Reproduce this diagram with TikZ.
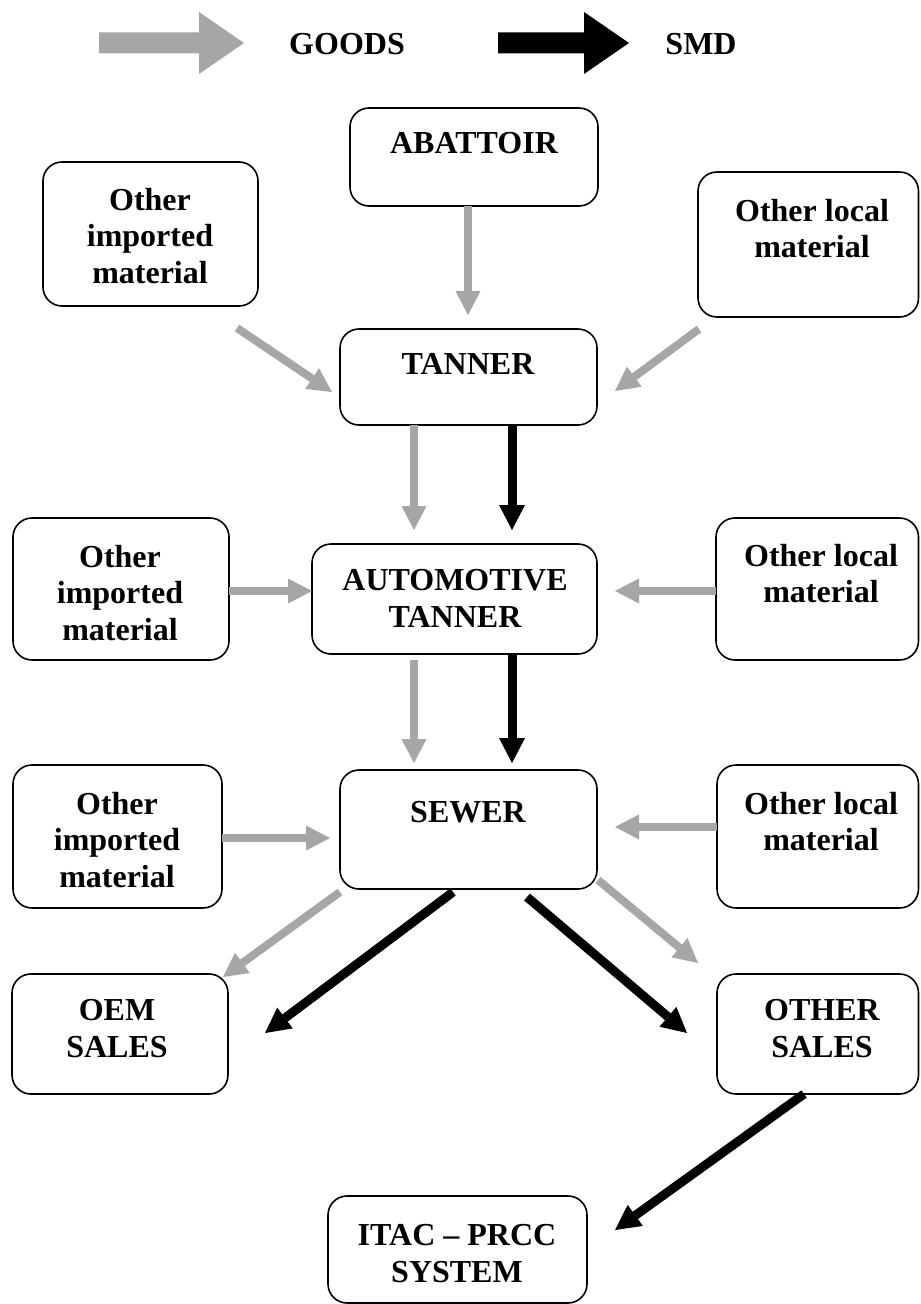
\documentclass[tikz,border=0pt]{standalone}
\usepackage{fontspec}
\setmainfont{Liberation Serif}
\usetikzlibrary{arrows.meta,calc}
\definecolor{goodsgray}{HTML}{A6A6A6}
\begin{document}
\begin{tikzpicture}[x=0.5pt,y=-0.5pt,
  box/.style={draw,line width=0.8pt,rounded corners=9.5pt,inner sep=0pt,outer sep=0pt},
  txt/.style={align=center,font=\fontsize{16}{18.3}\selectfont\bfseries,inner sep=0pt},
  goods/.style={draw=goodsgray,line width=4pt,-{Triangle[length=12pt,width=12.5pt,line width=0pt]}},
  smd/.style={draw=black,line width=4.5pt,-{Triangle[length=12.5pt,width=13pt,line width=0pt]}}]
\fill[white] (0,0) rectangle (920,1304);
\useasboundingbox (0,0) rectangle (920,1304);
\newcommand\bx[5]{\node[box,minimum width=#4*0.5pt,minimum height=#5*0.5pt] (#1) at (#2,#3) {};}
% legend
\fill[goodsgray] (99,32.5) -- (199,32.5) -- (199,12) -- (244,43) -- (199,74) -- (199,53.5) -- (99,53.5) -- cycle;
\node[txt] (lgoods) at (347,44) {GOODS};
\fill[black] (498,32.5) -- (584,32.5) -- (584,12) -- (629,43) -- (584,74) -- (584,53.5) -- (498,53.5) -- cycle;
\node[txt] (lsmd) at (701,44) {SMD};
% boxes
\bx{aba}{474}{157}{248}{98}
\bx{oima}{150.5}{234}{215}{144}
\bx{olma}{808.25}{244.5}{220.5}{145}
\bx{tan}{468.5}{377}{257}{96}
\bx{auto}{454.5}{599}{285}{110}
\bx{oimb}{121}{589}{216}{142}
\bx{olmb}{817.25}{589}{202.5}{142}
\bx{sew}{468.5}{829.5}{257}{119}
\bx{oimc}{117.5}{836.5}{209}{143}
\bx{olmc}{817.75}{836.5}{201.5}{143}
\bx{oem}{120}{1034}{216}{120}
\bx{oth}{817.75}{1034}{201.5}{120}
\bx{itac}{457.5}{1249.5}{259}{107}
% texts
\node[txt] (abaT) at (474,143) {ABATTOIR};
\node[txt] (oimaT) at (150,236) {Other\\imported\\material};
\node[txt] (olmaT) at (812,228.5) {Other local\\material};
\node[txt] (tanT) at (468,364) {TANNER};
\node[txt] (autoT) at (455,598.5) {AUTOMOTIVE\\TANNER};
\node[txt] (oimbT) at (120,593) {Other\\imported\\material};
\node[txt] (olmbT) at (821,573.5) {Other local\\material};
\node[txt] (sewT) at (468,812) {SEWER};
\node[txt] (oimcT) at (117,840) {Other\\imported\\material};
\node[txt] (olmcT) at (821,821.5) {Other local\\material};
\node[txt] (oemT) at (117,1028.5) {OEM\\SALES};
\node[txt] (othT) at (822,1028.5) {OTHER\\SALES};
\node[txt] (itacT) at (457,1253.5) {ITAC – PRCC\\SYSTEM};
% goods connectors
\draw[goods] ($(aba.south)+(-6,0)$) -- ($(tan.north)+(-0.5,-14)$);
\draw[goods] ($(oima.south east)+(-21,22)$) -- ($(tan.west)+(-8,15)$);
\draw[goods] ($(olma.south west)+(1,12)$) -- ($(tan.east)+(18,14)$);
\draw[goods] ($(tan.south)+(-54.5,0)$) -- ($(auto.north)+(-40.5,-14)$);
\draw[goods] ($(oimb.east)+(0,2)$) -- ($(auto.west)+(0,-8)$);
\draw[goods] ($(olmb.west)+(0,2)$) -- ($(auto.east)+(18,-8)$);
\draw[goods] ($(auto.south)+(-40.5,6)$) -- ($(sew.north)+(-54.5,-7)$);
\draw[goods] ($(oimc.east)+(0,1.5)$) -- ($(sew.west)+(-10,8.5)$);
\draw[goods] ($(olmc.west)+(0,-9.5)$) -- ($(sew.east)+(18,-2.5)$);
\draw[goods] ($(sew.south west)+(0,3)$) -- ($(oem.north east)+(-5,3)$);
\draw[goods] ($(sew.south east)+(1,-9)$) -- ($(oth.north west)+(-19,-11)$);
% smd connectors
\draw[smd] ($(tan.south)+(43.5,0)$) -- ($(auto.north)+(57.5,-14)$);
\draw[smd] ($(auto.south)+(57.5,0)$) -- ($(sew.north)+(43.5,-7)$);
\draw[smd] ($(sew.south)+(-15.5,3)$) -- ($(oem.east)+(37,-1)$);
\draw[smd] ($(sew.south)+(58.5,8)$) -- ($(oth.west)+(-30,-1)$);
\draw[smd] ($(oth.south)+(-13.75,0)$) -- ($(itac.east)+(28,-19.5)$);
\end{tikzpicture}
\end{document}
